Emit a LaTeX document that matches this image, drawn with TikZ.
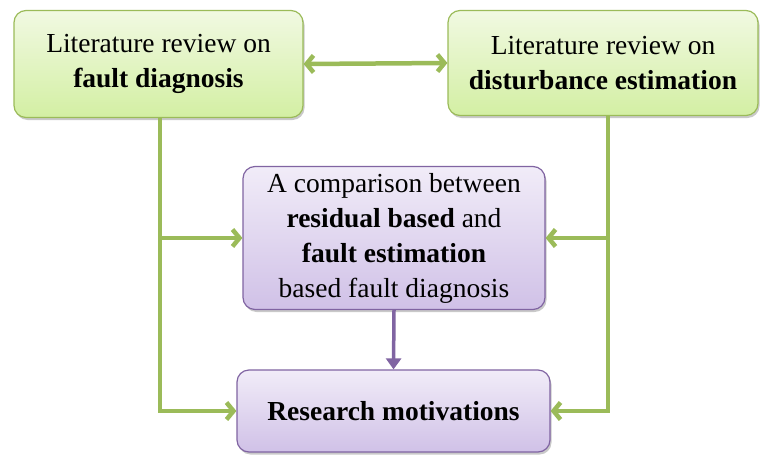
\documentclass[tikz,border=0pt]{standalone}
\usepackage{fontspec}
\setmainfont{Liberation Serif}
\newfontfamily\tnr{Liberation Serif}
\usetikzlibrary{arrows.meta,shadows}
\definecolor{gline}{HTML}{9BBB59}
\definecolor{gtop}{HTML}{F1F9E2}
\definecolor{gbot}{HTML}{D3EFA3}
\definecolor{pline}{HTML}{8064A2}
\definecolor{ptop}{HTML}{F1ECF8}
\definecolor{pbot}{HTML}{D0C1E7}
\tikzset{
  box/.style={rounded corners=12pt, line width=1.2pt, align=center, inner sep=0pt,
    font=\tnr\fontsize{27.5}{35}\selectfont,
    drop shadow={shadow xshift=1.5pt, shadow yshift=-2.5pt, opacity=0.3, fill=black!70}},
  gbox/.style={box, draw=gline, top color=gtop, bottom color=gbot},
  pbox/.style={box, draw=pline, top color=ptop, bottom color=pbot},
  garrow/.style={draw=gline, line width=4.5pt, -{Straight Barb[length=7pt,width=17pt]}},
  parrow/.style={draw=pline, line width=3.5pt, -{Triangle[length=11pt,width=15pt]}}
}
\begin{document}
\begin{tikzpicture}[x=1pt,y=-1pt]
\useasboundingbox (0,0) rectangle (762,455);
\node[gbox, minimum width=289pt, minimum height=107pt] (b1) at (158.5,64)
  {Literature review on\\ \textbf{fault diagnosis}};
\node[gbox, minimum width=310pt, minimum height=105pt] (b2) at (603,63)
  {Literature review on\\ \textbf{disturbance estimation}};
\node[pbox, minimum width=302pt, minimum height=143pt] (b3) at (394,238)
  {A comparison between\\ \textbf{residual based} and\\ \textbf{fault estimation}\\ based fault diagnosis};
\node[pbox, minimum width=313pt, minimum height=82pt] (b4) at (393.5,411)
  {\textbf{Research motivations}};
\coordinate (l) at (160,117);
\coordinate (r) at (608,115);
\draw[garrow, {Straight Barb[length=7pt,width=17pt]}-{Straight Barb[length=7pt,width=17pt]}] (b1.east) -- (b2.west);
\draw[garrow] (l) |- (b4.west);
\draw[garrow] (r) |- (b4.east);
\draw[garrow] (l |- b3.west) -- (b3.west);
\draw[garrow] (r |- b3.east) -- (b3.east);
\draw[parrow] (b3.south) -- (b4.north);
\end{tikzpicture}
\end{document}
